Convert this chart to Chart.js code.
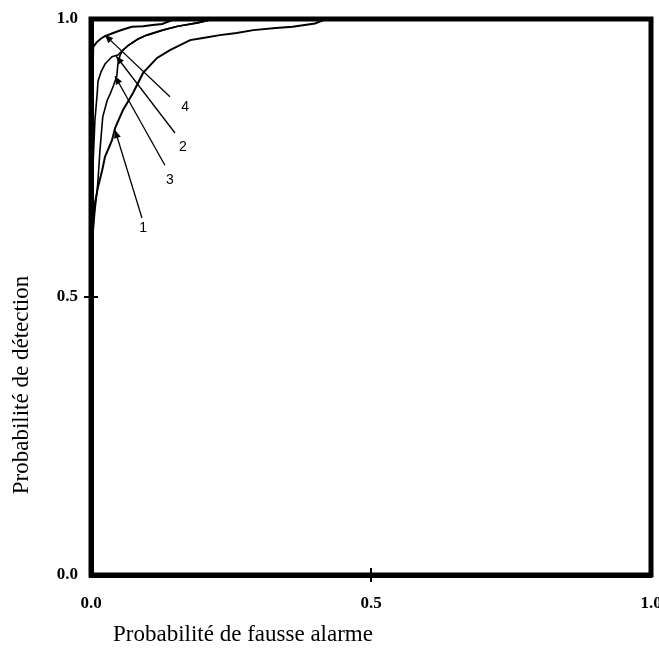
<!DOCTYPE html>
<html>
<head>
<meta charset="utf-8">
<script src="https://cdn.jsdelivr.net/npm/chart.js@4/dist/chart.umd.min.js"></script>
<style>
  html, body { margin: 0; padding: 0; background: #fff; }
  #wrap { width: 659px; height: 649px; }
</style>
</head>
<body>
<div id="wrap"><canvas id="c" width="659" height="649"></canvas></div>
<script>
// ---- Data ----
const xTickValues = [0, 0.5, 1];
const yTickValues = [0, 0.5, 1];
const xTitle = 'Probabilité de fausse alarme';
const yTitle = 'Probabilité de détection';

const fpr1 = [0, 0.002, 0.004, 0.007, 0.0125, 0.02, 0.025, 0.0375, 0.043, 0.057, 0.075, 0.093, 0.118, 0.141, 0.177, 0.2, 0.23, 0.26, 0.29, 0.33, 0.36, 0.40, 0.42, 1];
const tpr1 = [0, 0.58, 0.638, 0.669, 0.698, 0.728, 0.752, 0.782, 0.804, 0.836, 0.867, 0.903, 0.930, 0.944, 0.962, 0.966, 0.971, 0.975, 0.980, 0.984, 0.986, 0.992, 1, 1];

const fpr2 = [0, 0.002, 0.004, 0.007, 0.011, 0.0125, 0.018, 0.025, 0.0375, 0.048, 0.057, 0.066, 0.084, 0.1, 0.128, 0.155, 0.19, 0.22, 1];
const tpr2 = [0, 0.674, 0.746, 0.818, 0.865, 0.888, 0.905, 0.919, 0.932, 0.935, 0.944, 0.952, 0.964, 0.971, 0.980, 0.987, 0.993, 1, 1];

const fpr3 = [0, 0.002, 0.004, 0.007, 0.011, 0.0125, 0.016, 0.021, 0.029, 0.034, 0.04, 0.046, 0.048, 0.052, 0.057, 0.066, 0.084, 0.1, 0.128, 0.155, 0.19, 0.22, 1];
const tpr3 = [0, 0.58, 0.62, 0.656, 0.692, 0.71, 0.764, 0.824, 0.854, 0.865, 0.88, 0.897, 0.919, 0.935, 0.944, 0.952, 0.964, 0.971, 0.980, 0.987, 0.993, 1, 1];

const fpr4 = [0, 0.001, 0.002, 0.003, 0.004, 0.01, 0.018, 0.025, 0.035, 0.048, 0.06, 0.073, 0.093, 0.11, 0.127, 0.15, 1];
const tpr4 = [0, 0.6, 0.8, 0.9, 0.95, 0.958, 0.965, 0.969, 0.973, 0.978, 0.982, 0.986, 0.987, 0.989, 0.991, 1, 1];

// Curve labels with arrows (data coordinates)
const curveLabels = ['1', '2', '3', '4'];
const labelX = [0.093, 0.164, 0.141, 0.168];
const labelY = [0.624, 0.770, 0.710, 0.842];
const arrowFromX = [0.091, 0.150, 0.132, 0.141];
const arrowFromY = [0.642, 0.795, 0.737, 0.860];
const arrowTipX = [0.043, 0.045, 0.043, 0.025];
const arrowTipY = [0.800, 0.933, 0.897, 0.971];

function pts(xs, ys) { return xs.map((x, i) => ({ x: x, y: ys[i] })); }

const serif = '"Liberation Serif", "DejaVu Serif", serif';

const decorPlugin = {
  id: 'decor',
  afterDatasetsDraw(chart) {
    const { ctx, chartArea: a, scales } = chart;
    const sx = scales.x, sy = scales.y;
    ctx.save();
    // frame
    ctx.strokeStyle = '#000';
    ctx.lineWidth = 5;
    ctx.lineJoin = 'miter';
    ctx.strokeRect(a.left, a.top, a.right - a.left, a.bottom - a.top);
    // cross ticks at 0.5
    ctx.lineWidth = 2;
    const mx = sx.getPixelForValue(0.5), my = sy.getPixelForValue(0.5);
    ctx.beginPath();
    ctx.moveTo(mx, a.bottom - 7); ctx.lineTo(mx, a.bottom + 7);
    ctx.moveTo(a.left - 7, my); ctx.lineTo(a.left + 7, my);
    ctx.stroke();
    // curve labels & arrows
    ctx.lineWidth = 1.3;
    ctx.fillStyle = '#000';
    ctx.font = '14px "Liberation Sans", Arial, sans-serif';
    ctx.textAlign = 'center';
    ctx.textBaseline = 'middle';
    curveLabels.forEach((t, i) => {
      const x0 = sx.getPixelForValue(arrowFromX[i]), y0 = sy.getPixelForValue(arrowFromY[i]);
      const x1 = sx.getPixelForValue(arrowTipX[i]), y1 = sy.getPixelForValue(arrowTipY[i]);
      ctx.beginPath(); ctx.moveTo(x0, y0); ctx.lineTo(x1, y1); ctx.stroke();
      const ang = Math.atan2(y1 - y0, x1 - x0);
      const L = 8, W = 3.5;
      ctx.beginPath();
      ctx.moveTo(x1, y1);
      ctx.lineTo(x1 - L * Math.cos(ang) + W * Math.sin(ang), y1 - L * Math.sin(ang) - W * Math.cos(ang));
      ctx.lineTo(x1 - L * Math.cos(ang) - W * Math.sin(ang), y1 - L * Math.sin(ang) + W * Math.cos(ang));
      ctx.closePath(); ctx.fill();
      ctx.fillText(t, sx.getPixelForValue(labelX[i]), sy.getPixelForValue(labelY[i]));
    });
    // axis titles
    ctx.font = '23px ' + serif;
    ctx.fillText(xTitle, 243, 635);
    ctx.translate(22, 385);
    ctx.rotate(-Math.PI / 2);
    ctx.fillText(yTitle, 0, 0);
    ctx.restore();
  }
};

const lineStyle = { borderColor: '#000', borderWidth: 1.6, pointRadius: 0, showLine: true, tension: 0, fill: false };

new Chart(document.getElementById('c'), {
  type: 'scatter',
  data: {
    datasets: [
      Object.assign({ label: '1', data: pts(fpr1, tpr1) }, lineStyle, { borderWidth: 2 }),
      Object.assign({ label: '2', data: pts(fpr2, tpr2) }, lineStyle),
      Object.assign({ label: '3', data: pts(fpr3, tpr3) }, lineStyle),
      Object.assign({ label: '4', data: pts(fpr4, tpr4) }, lineStyle, { borderWidth: 2 })
    ]
  },
  options: {
    responsive: false,
    animation: false,
    devicePixelRatio: 1,
    layout: { padding: { left: 0, top: 19, right: 8, bottom: 0 } },
    plugins: { legend: { display: false }, tooltip: { enabled: false } },
    scales: {
      x: {
        type: 'linear', min: 0, max: 1,
        afterBuildTicks(s) { s.ticks = xTickValues.map(v => ({ value: v })); },
        afterFit(s) { s.height = 74; s.paddingLeft = 0; s.paddingRight = 0; },
        grid: { display: true, drawOnChartArea: false, drawTicks: false },
        border: { display: true, width: 5, color: '#000' },
        ticks: { color: '#000', padding: 18, maxRotation: 0, autoSkip: false,
          font: { family: serif, size: 17, weight: 'bold' },
          callback: v => Number(v).toFixed(1) }
      },
      y: {
        type: 'linear', min: 0, max: 1,
        afterBuildTicks(s) { s.ticks = yTickValues.map(v => ({ value: v })); },
        afterFit(s) { s.width = 91; s.paddingTop = 0; s.paddingBottom = 0; },
        grid: { display: true, drawOnChartArea: false, drawTicks: false },
        border: { display: true, width: 5, color: '#000' },
        ticks: { color: '#000', padding: 13, autoSkip: false,
          font: { family: serif, size: 17, weight: 'bold' },
          callback: v => Number(v).toFixed(1) }
      }
    }
  },
  plugins: [decorPlugin]
});
</script>
</body>
</html>
